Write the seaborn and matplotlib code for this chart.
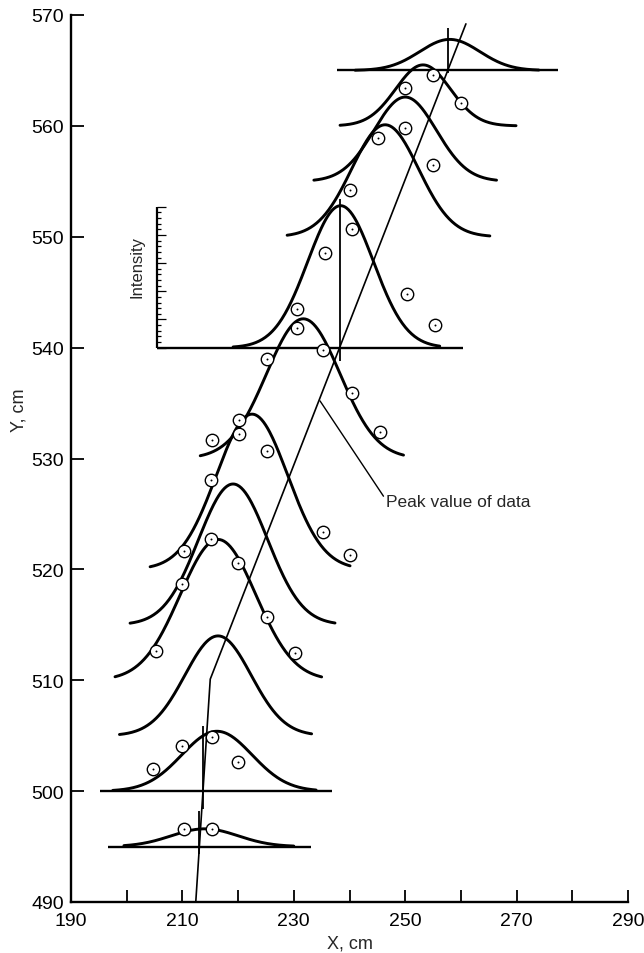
import numpy as np
import pandas as pd
import matplotlib
matplotlib.use("Agg")
import matplotlib.pyplot as plt
import seaborn as sns

sns.set_style("ticks")
plt.rcParams["font.family"] = ["Liberation Sans", "DejaVu Sans"]

# ---- fitted intensity profiles (one per scan height Y) ----
levels  = [495, 500, 505, 510, 515, 520, 530, 540, 550, 555, 560, 565]
centers = [214.0, 216.2, 216.4, 216.4, 219.1, 222.5, 231.7, 238.4, 246.4, 250.0, 253.2, 258.0]
amps    = [1.6, 5.4, 9.0, 12.7, 12.7, 14.0, 12.6, 12.8, 10.1, 7.6, 5.5, 2.8]
sigmas  = [6.0, 6.3, 5.95, 6.8, 6.2, 6.4, 6.6, 5.9, 6.0, 5.6, 4.9, 5.4]
x_start = [199.5, 197.5, 198.7, 197.9, 200.6, 204.2, 213.2, 219.1, 228.8, 233.6, 238.3, 241.0]
x_end   = [230.0, 234.0, 233.2, 235.0, 237.4, 240.1, 249.7, 256.2, 265.2, 266.4, 269.9, 274.0]

# ---- measured data points ----
obs_x = [210.2, 215.4,
         204.8, 210.0, 215.4, 220.0,
         205.2, 210.0, 215.1, 220.0, 225.1, 230.2,
         210.2, 215.1, 220.2, 225.1, 235.3, 240.1,
         215.3, 220.2, 225.1, 230.5, 235.2, 240.4, 245.4,
         230.5, 235.6, 240.0, 240.4, 250.3, 255.3,
         245.2, 250.0, 250.0, 255.0, 260.0, 255.0]
obs_y = [496.6, 496.6,
         502.0, 504.1, 504.9, 502.6,
         512.6, 518.7, 522.7, 520.6, 515.7, 512.5,
         521.7, 528.1, 532.2, 530.7, 523.4, 521.3,
         531.7, 533.5, 539.0, 541.8, 539.8, 535.9, 532.4,
         543.5, 548.5, 554.2, 550.7, 544.8, 542.0,
         558.9, 559.8, 563.4, 564.6, 562.1, 556.5]

# ---- drawn baselines ----
base_levels = [495, 500, 540, 565]
base_x0 = [196.7, 195.2, 205.4, 237.7]
base_x1 = [233.0, 236.8, 260.3, 277.5]

# ---- peak-of-data trajectory and peak markers ----
traj_x = [212.4, 215.0, 260.9]
traj_y = [490.0, 510.1, 569.2]
mark_x  = [213.0, 213.7, 238.3, 257.7]
mark_y0 = [494.3, 498.4, 538.8, 564.8]
mark_y1 = [498.2, 505.9, 553.4, 568.8]

# ---- intensity scale ----
scale_x = 205.4
scale_y0, scale_y1 = 540.0, 552.7
scale_divisions = 25

rows = []
for lev, c, a, s, x0, x1 in zip(levels, centers, amps, sigmas, x_start, x_end):
    xs = np.linspace(x0, x1, 200)
    ys = lev + a * np.exp(-0.5 * ((xs - c) / s) ** 2)
    rows.append(pd.DataFrame({"x": xs, "y": ys, "level": lev}))
curves = pd.concat(rows, ignore_index=True)

fig = plt.figure(figsize=(6.44, 9.54), dpi=100)
ax = fig.add_axes([71 / 644, 1 - 903 / 954, 557 / 644, 887 / 954])

sns.lineplot(data=curves, x="x", y="y", units="level", estimator=None, sort=False,
             color="black", lw=2.1, ax=ax, legend=False)
ax.hlines(base_levels, base_x0, base_x1, color="black", lw=1.7)
sns.lineplot(x=traj_x, y=traj_y, sort=False, estimator=None, color="black", lw=1.2, ax=ax)
ax.vlines(mark_x, mark_y0, mark_y1, color="black", lw=1.3)

# intensity scale bar
ax.vlines([scale_x], [scale_y0], [scale_y1], color="black", lw=1.6)
tick_y = np.linspace(scale_y0, scale_y1, scale_divisions + 1)
tick_len = np.where(np.arange(scale_divisions + 1) % 5 == 0, 1.6, 0.8)
ax.hlines(tick_y, scale_x, scale_x + tick_len, color="black", lw=0.9)
ax.text(scale_x - 3.6, (scale_y0 + scale_y1) / 2 + 1.0, "Intensity", rotation=90,
        ha="center", va="center", fontsize=12)

# data points
sns.scatterplot(x=obs_x, y=obs_y, marker="o", s=80, facecolor="white",
                edgecolor="black", linewidth=1.0, zorder=5, ax=ax, legend=False)
sns.scatterplot(x=obs_x, y=obs_y, marker="o", s=2, color="black",
                linewidth=0, zorder=6, ax=ax, legend=False)

# annotation
ax.plot([234.7, 246.1], [535.2, 526.6], color="black", lw=1.0)
ax.text(246.6, 526.1, "Peak value of data", ha="left", va="center", fontsize=12.5)

ax.set_xlim(190, 290)
ax.set_ylim(490, 570)
ax.set_xticks(np.arange(190, 291, 20))
ax.set_xticks(np.arange(200, 281, 20), minor=True)
ax.set_yticks(np.arange(490, 571, 10))
ax.tick_params(axis="both", which="both", direction="in", length=9, width=1.3,
               labelsize=14, colors="black")
ax.tick_params(axis="x", which="both", pad=7)
ax.tick_params(axis="y", pad=5)
sns.despine(ax=ax)
for side in ("left", "bottom"):
    ax.spines[side].set_linewidth(1.7)
    ax.spines[side].set_color("black")

ax.set_xlabel("X, cm", fontsize=13, labelpad=4)
ax.set_ylabel("Y, cm", fontsize=13)
ax.yaxis.set_label_coords(-0.078, 0.555)

fig.savefig("out.png", dpi=100)
